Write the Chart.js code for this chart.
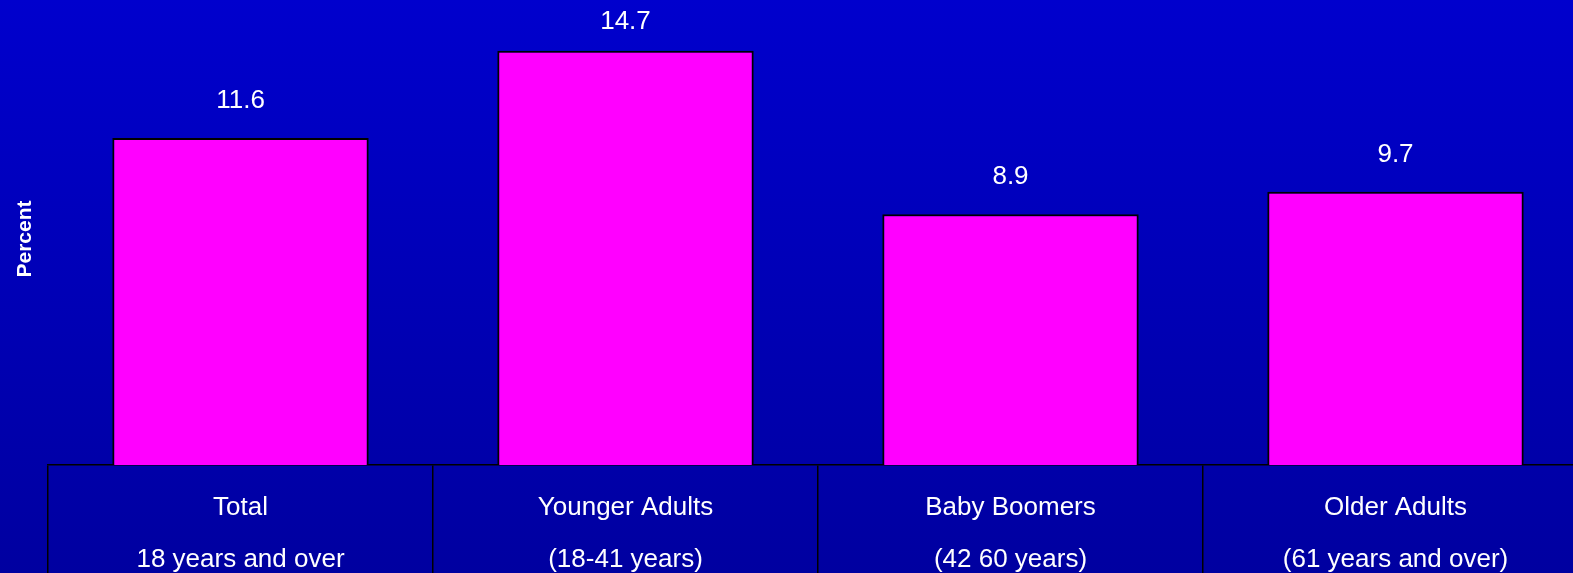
<!DOCTYPE html>
<html>
<head>
<meta charset="utf-8">
<script src="https://cdn.jsdelivr.net/npm/chart.js@4/dist/chart.umd.min.js"></script>
<style>
    html, body { margin: 0; padding: 0; overflow: hidden; }
    body { width: 1573px; height: 573px; background: linear-gradient(to bottom, #0000cd 0%, #0000a0 100%); }
    canvas { display: block; }
</style>
</head>
<body>
<canvas id="chart" width="1588" height="573"></canvas>
<script>(function() { "use strict";

    var group_names = ['Total', 'Younger Adults', 'Baby Boomers', 'Older Adults'];
    var group_ages = ['18 years and over', '(18-41 years)', '(42 60 years)', '(61 years and over)'];
    var percent_values = [11.6, 14.7, 8.9, 9.7];

    var labels = group_names.map(function (name, i) {
        return [name, group_ages[i]];
    });

    var font_family = '"Liberation Sans", Arial, sans-serif';

    // Value above each bar + rotated axis title
    var valueLabels = {
        id: 'valueLabels',
        afterDatasetsDraw: function (chart) {
            var ctx = chart.ctx;
            var meta = chart.getDatasetMeta(0);
            ctx.save();
            ctx.fillStyle = '#ffffff';
            ctx.font = '26px ' + font_family;
            ctx.textAlign = 'center';
            ctx.textBaseline = 'middle';
            meta.data.forEach(function (bar, i) {
                var y = Math.max(bar.y - 37, 22);
                ctx.fillText(String(percent_values[i]), bar.x, y);
            });

            ctx.font = 'bold 21px ' + font_family;
            ctx.translate(25, 239);
            ctx.rotate(-Math.PI / 2);
            ctx.fillText('Percent', 0, 0);
            ctx.restore();
        }
    };

    new Chart(document.getElementById('chart').getContext('2d'), {
        type: 'bar',
        data: {
            labels: labels,
            datasets: [{
                data: percent_values,
                backgroundColor: '#ff00ff',
                borderColor: '#000000',
                borderWidth: 2,
                borderSkipped: 'bottom',
                barPercentage: 0.666,
                categoryPercentage: 1
            }]
        },
        options: {
            responsive: false,
            animation: false,
            layout: { padding: 0 },
            plugins: {
                legend: { display: false },
                tooltip: { enabled: false }
            },
            scales: {
                x: {
                    offset: true,
                    afterFit: function (s) { s.height = 108; },
                    border: { display: true, color: '#000000', width: 1.5 },
                    grid: {
                        offset: true,
                        drawOnChartArea: false,
                        drawTicks: true,
                        tickLength: 108,
                        color: '#000000',
                        lineWidth: 1.5
                    },
                    ticks: {
                        color: '#ffffff',
                        padding: -91,
                        maxRotation: 0,
                        autoSkip: false,
                        font: { family: font_family, size: 26, lineHeight: '52px' }
                    }
                },
                y: {
                    min: 0,
                    max: 16.5,
                    afterFit: function (s) { s.width = 48; },
                    border: { display: false },
                    grid: { display: false },
                    ticks: { display: false }
                }
            }
        },
        plugins: [valueLabels]
    });

})();</script>
</body>
</html>
